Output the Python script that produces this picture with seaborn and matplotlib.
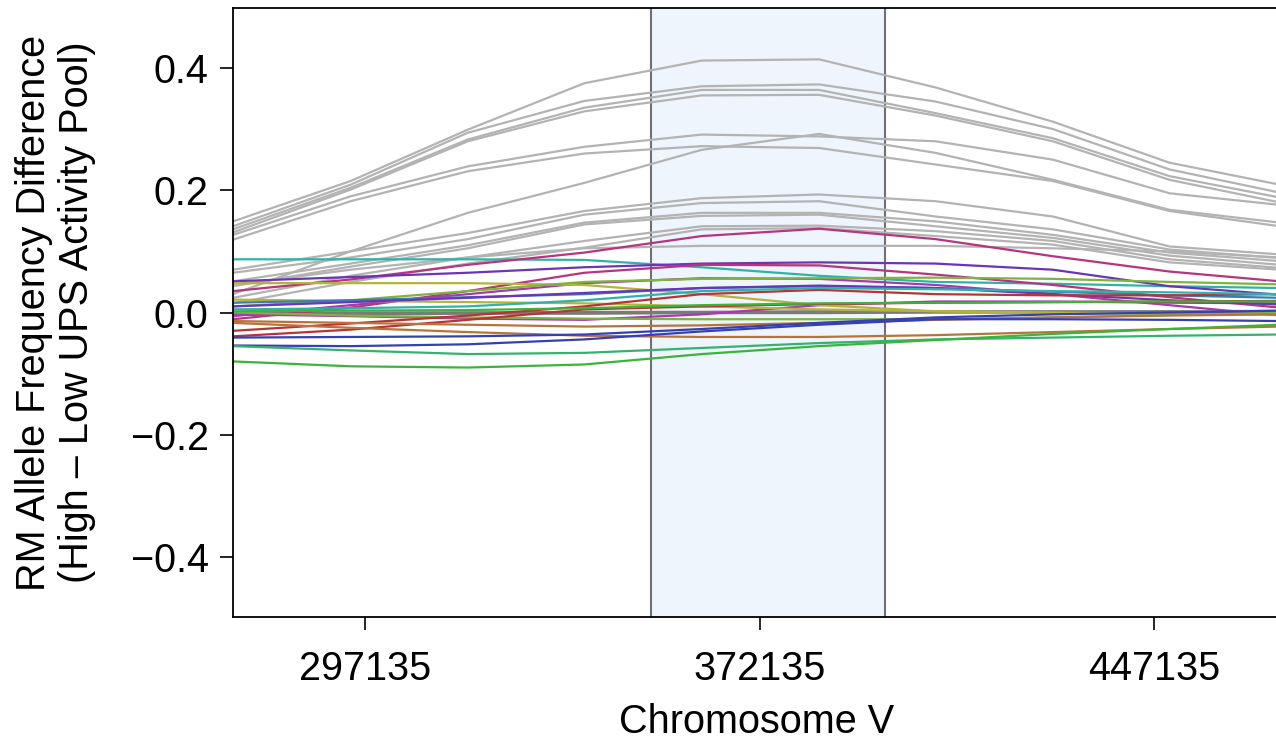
import numpy as np
import pandas as pd
import matplotlib
matplotlib.use("Agg")
import matplotlib.pyplot as plt
import seaborn as sns

positions = [271950, 294300, 316600, 338750, 361050, 383400, 405550, 427850, 450000, 471000]

# grey curves (other windows)
grey_lines = [
    [0.149, 0.215, 0.299, 0.375, 0.412, 0.414, 0.368, 0.312, 0.245, 0.209],
    [0.141, 0.209, 0.294, 0.346, 0.370, 0.373, 0.345, 0.300, 0.234, 0.196],
    [0.136, 0.204, 0.283, 0.335, 0.364, 0.364, 0.326, 0.285, 0.223, 0.188],
    [0.131, 0.201, 0.280, 0.329, 0.355, 0.356, 0.322, 0.280, 0.217, 0.180],
    [0.127, 0.190, 0.239, 0.271, 0.291, 0.288, 0.280, 0.250, 0.195, 0.176],
    [0.119, 0.182, 0.231, 0.260, 0.272, 0.269, 0.242, 0.215, 0.166, 0.141],
    [0.030, 0.100, 0.163, 0.212, 0.266, 0.292, 0.261, 0.217, 0.168, 0.147],
    [0.070, 0.100, 0.130, 0.166, 0.187, 0.193, 0.182, 0.157, 0.108, 0.095],
    [0.065, 0.090, 0.120, 0.160, 0.179, 0.182, 0.157, 0.136, 0.103, 0.089],
    [0.051, 0.080, 0.110, 0.147, 0.163, 0.163, 0.149, 0.127, 0.098, 0.084],
    [0.043, 0.075, 0.105, 0.144, 0.158, 0.160, 0.141, 0.122, 0.093, 0.078],
    [0.024, 0.060, 0.090, 0.117, 0.141, 0.142, 0.133, 0.117, 0.087, 0.073],
    [0.015, 0.050, 0.080, 0.106, 0.136, 0.138, 0.125, 0.111, 0.082, 0.070],
    [0.045, 0.070, 0.090, 0.105, 0.109, 0.109, 0.109, 0.105, 0.100, 0.090],
    [0.005, 0.003, 0.001, 0.000, 0.000, 0.000, 0.000, 0.001, 0.002, 0.003],
]
# near-zero darker grey curves
dark_lines = [
    [-0.004, -0.003, -0.002, -0.002, -0.001, -0.001, 0.000, 0.000, 0.000, 0.000],
    [-0.001, -0.001, 0.000, 0.001, 0.001, 0.002, 0.002, 0.002, 0.002, 0.001],
]

# coloured curves
colour_lines = [
    [0.087, 0.087, 0.087, 0.086, 0.074, 0.060, 0.050, 0.047, 0.043, 0.040],
    [0.035, 0.054, 0.078, 0.098, 0.125, 0.137, 0.120, 0.092, 0.067, 0.051],
    [0.051, 0.058, 0.065, 0.074, 0.080, 0.082, 0.080, 0.070, 0.043, 0.029],
    [-0.011, 0.008, 0.035, 0.065, 0.078, 0.077, 0.062, 0.045, 0.025, 0.008],
    [-0.006, 0.012, 0.030, 0.048, 0.056, 0.055, 0.045, 0.030, 0.012, -0.005],
    [-0.003, -0.006, -0.010, -0.012, -0.003, 0.012, 0.018, 0.018, 0.016, 0.015],
    [0.048, 0.048, 0.048, 0.045, 0.030, 0.012, 0.002, -0.001, -0.002, -0.003],
    [0.021, 0.019, 0.017, 0.015, 0.010, 0.005, 0.002, 0.000, -0.002, -0.003],
    [0.010, 0.020, 0.035, 0.050, 0.055, 0.056, 0.057, 0.055, 0.050, 0.046],
    [0.000, -0.005, -0.008, -0.010, -0.011, -0.011, -0.011, -0.008, -0.004, 0.000],
    [0.016, 0.020, 0.025, 0.030, 0.040, 0.043, 0.040, 0.034, 0.028, 0.024],
    [0.010, 0.017, 0.024, 0.032, 0.040, 0.044, 0.040, 0.030, 0.020, 0.013],
    [-0.030, -0.018, -0.005, 0.010, 0.030, 0.037, 0.030, 0.028, 0.028, 0.030],
    [-0.039, -0.028, -0.012, 0.005, 0.010, 0.014, 0.016, 0.017, 0.018, 0.019],
    [-0.014, -0.017, -0.020, -0.023, -0.021, -0.017, -0.012, -0.008, -0.005, -0.003],
    [-0.017, -0.025, -0.032, -0.038, -0.040, -0.040, -0.037, -0.032, -0.027, -0.023],
    [-0.041, -0.040, -0.039, -0.036, -0.027, -0.017, -0.008, -0.003, 0.000, 0.003],
    [-0.054, -0.055, -0.052, -0.044, -0.031, -0.020, -0.011, -0.011, -0.012, -0.014],
    [-0.055, -0.062, -0.068, -0.066, -0.058, -0.050, -0.044, -0.041, -0.038, -0.036],
    [-0.080, -0.088, -0.090, -0.085, -0.068, -0.055, -0.045, -0.035, -0.027, -0.020],
    [0.002, 0.003, 0.004, 0.007, 0.012, 0.015, 0.016, 0.017, 0.018, 0.018],
    [0.005, 0.007, 0.010, 0.020, 0.035, 0.040, 0.038, 0.035, 0.033, 0.030],
]
colour_list = [
    "#2fb3a8", "#b8347e", "#6a35b8", "#b8347e", "#a838b0", "#a838b0",
    "#b5b33a", "#b5b33a", "#7db43c", "#7db43c", "#3a7eb5", "#6a35b8",
    "#b83434", "#b83434", "#b8733a", "#b8733a", "#3640b5", "#3640b5",
    "#35b36e", "#3ab53a", "#3ab53a", "#2fb3a8",
]

interval = (351500, 396000)
xticks = [297135, 372135, 447135]
yticks = [-0.4, -0.2, 0.0, 0.2, 0.4]

# long-form table
rows = []
palette = {}
groups = [(grey_lines, ["#b3b3b3"] * len(grey_lines), "g"),
          (dark_lines, ["#7a7a7a"] * len(dark_lines), "d"),
          (colour_lines, colour_list, "c")]
for lines, cols, tag in groups:
    for i, (vals, col) in enumerate(zip(lines, cols)):
        name = f"{tag}{i}"
        palette[name] = col
        for p, v in zip(positions, vals):
            rows.append((name, p, v))
df = pd.DataFrame(rows, columns=["line", "pos", "afd"])

sns.set_style("ticks")
plt.rcParams["font.family"] = ["Liberation Sans", "DejaVu Sans"]
plt.rcParams["text.color"] = "black"
plt.rcParams["axes.labelcolor"] = "black"
plt.rcParams["xtick.color"] = "black"
plt.rcParams["ytick.color"] = "black"

fig = plt.figure(figsize=(12.76, 7.5), dpi=100)
ax = fig.add_axes([233 / 1276, 1 - 617 / 750, (1276 - 233) / 1276 + 0.003, (617 - 8) / 750])

ax.axvspan(*interval, color="#eef5fd", zorder=0)
for xv in interval:
    ax.axvline(xv, color="#707070", lw=1.5, zorder=1)

sns.lineplot(data=df, x="pos", y="afd", hue="line", hue_order=list(palette),
             palette=palette, legend=False, estimator=None, sort=False,
             lw=1.6, ax=ax, zorder=2)

ax.set_xlim(271944, 470990)
ax.set_ylim(-0.498, 0.498)
ax.set_xticks(xticks)
ax.set_xticklabels([str(t) for t in xticks])
ax.set_yticks(yticks)
ax.set_yticklabels([f"{t:.1f}".replace("-", "\u2212") for t in yticks])
ax.tick_params(axis="both", labelsize=28.5, length=9.5, width=1.2, pad=8)
ax.tick_params(axis="x", pad=14)
for s in ax.spines.values():
    s.set_linewidth(1.3)
    s.set_color("black")

ax.set_xlabel("Chromosome V", fontsize=28.5, labelpad=11)
ax.set_ylabel("RM Allele Frequency Difference\n(High \u2013 Low UPS Activity Pool)",
              fontsize=28.5, labelpad=25, linespacing=1.15)

fig.savefig("out.png", dpi=100)
